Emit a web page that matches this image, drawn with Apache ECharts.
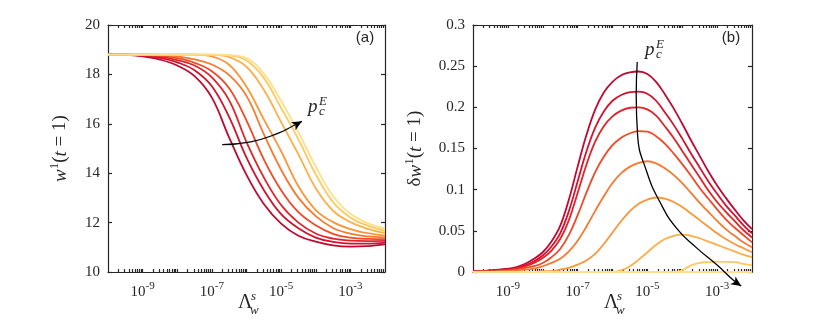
<!DOCTYPE html>
<html>
<head>
<meta charset="utf-8">
<script src="https://cdn.jsdelivr.net/npm/echarts@6/dist/echarts.min.js"></script>
<style>
  html, body { margin: 0; padding: 0; background: #fff; }
  #chart { width: 830px; height: 332px; }
</style>
</head>
<body>
<div id="chart"></div>
<script>
// x values are log10(Lambda_w^s)
const logLambdaA = [-10, -9.5, -9, -8.5, -8, -7.5, -7, -6.5, -6, -5.5, -5, -4.5, -4, -3.5, -3, -2.5, -2];
const logLambdaB = [-10, -9.75, -9.5, -9.25, -9, -8.75, -8.5, -8.25, -8, -7.75, -7.5, -7.25, -7, -6.75, -6.5, -6.25,
  -6, -5.75, -5.5, -5.25, -5, -4.75, -4.5, -4.25, -4, -3.75, -3.5, -3.25, -3, -2.75, -2.5, -2.25, -2];

// panel (a): w^1(t=1), dark red -> light yellow
const w1 = [18.80, 18.79, 18.73, 18.60, 18.36, 17.93, 17.06, 15.44, 13.93, 12.75, 11.96, 11.47, 11.23, 11.08, 11.03, 11.05, 11.12];
const w2 = [18.80, 18.80, 18.76, 18.67, 18.49, 18.17, 17.52, 16.27, 14.63, 13.32, 12.34, 11.77, 11.39, 11.22, 11.15, 11.15, 11.19];
const w3 = [18.80, 18.80, 18.78, 18.72, 18.58, 18.36, 17.88, 16.95, 15.26, 13.83, 12.71, 12.00, 11.56, 11.35, 11.27, 11.25, 11.26];
const w4 = [18.80, 18.80, 18.79, 18.76, 18.66, 18.47, 18.13, 17.44, 16.13, 14.56, 13.31, 12.42, 11.89, 11.54, 11.39, 11.34, 11.33];
const w5 = [18.80, 18.80, 18.80, 18.79, 18.73, 18.61, 18.40, 17.97, 17.13, 15.58, 14.14, 13.00, 12.26, 11.78, 11.55, 11.44, 11.40];
const w6 = [18.80, 18.80, 18.80, 18.80, 18.80, 18.80, 18.73, 18.39, 17.50, 16.18, 14.89, 13.47, 12.51, 12.02, 11.74, 11.57, 11.47];
const w7 = [18.80, 18.80, 18.80, 18.80, 18.80, 18.80, 18.79, 18.70, 18.31, 17.38, 16.07, 14.76, 13.39, 12.48, 12.02, 11.75, 11.58];
const w8 = [18.80, 18.80, 18.80, 18.80, 18.80, 18.80, 18.80, 18.77, 18.56, 17.86, 16.64, 15.37, 13.95, 12.83, 12.21, 11.88, 11.67];
const w9 = [18.80, 18.80, 18.80, 18.80, 18.80, 18.80, 18.80, 18.78, 18.66, 18.03, 16.92, 15.65, 14.27, 13.08, 12.36, 11.98, 11.76];

// panel (b): delta w^1(t=1)
const dw1 = [0.001, 0.001, 0.002, 0.003, 0.004, 0.006, 0.010, 0.016, 0.024, 0.037, 0.056, 0.088, 0.128, 0.166, 0.197, 0.218,
  0.231, 0.239, 0.2425, 0.2435, 0.2405, 0.231, 0.216, 0.199, 0.180, 0.160, 0.141, 0.122, 0.105, 0.090, 0.076, 0.063, 0.052];
const dw2 = [0.001, 0.001, 0.002, 0.002, 0.003, 0.005, 0.008, 0.013, 0.020, 0.031, 0.047, 0.074, 0.110, 0.146, 0.175, 0.195,
  0.208, 0.215, 0.2185, 0.219, 0.2165, 0.208, 0.194, 0.179, 0.162, 0.144, 0.127, 0.110, 0.095, 0.081, 0.069, 0.057, 0.047];
const dw3 = [0.001, 0.001, 0.001, 0.002, 0.003, 0.004, 0.007, 0.011, 0.017, 0.026, 0.040, 0.063, 0.096, 0.130, 0.158, 0.177,
  0.189, 0.196, 0.1995, 0.2, 0.1975, 0.190, 0.177, 0.163, 0.147, 0.131, 0.115, 0.099, 0.085, 0.073, 0.062, 0.051, 0.042];
const dw4 = [0.000, 0.001, 0.001, 0.001, 0.002, 0.003, 0.005, 0.007, 0.011, 0.018, 0.028, 0.045, 0.069, 0.096, 0.121, 0.140,
  0.154, 0.163, 0.1685, 0.171, 0.1705, 0.165, 0.156, 0.144, 0.131, 0.117, 0.102, 0.089, 0.076, 0.064, 0.054, 0.045, 0.036];
const dw5 = [0.000, 0.000, 0.000, 0.001, 0.001, 0.002, 0.003, 0.004, 0.007, 0.011, 0.016, 0.025, 0.038, 0.055, 0.074, 0.092,
  0.108, 0.120, 0.128, 0.1325, 0.1345, 0.132, 0.126, 0.118, 0.108, 0.096, 0.084, 0.073, 0.062, 0.052, 0.044, 0.036, 0.030];
const dw6 = [0, 0, 0, 0, 0, 0, 0, 0, 0.001, 0.001, 0.003, 0.005, 0.009, 0.014, 0.022, 0.034,
  0.048, 0.062, 0.074, 0.083, 0.088, 0.0905, 0.089, 0.085, 0.079, 0.071, 0.063, 0.055, 0.047, 0.040, 0.034, 0.029, 0.024];
const dw7 = [0, 0, 0, 0, 0, 0, 0, 0, 0, 0, 0, 0, 0, 0, 0, 0,
  0, 0.002, 0.007, 0.015, 0.024, 0.033, 0.040, 0.044, 0.0455, 0.044, 0.041, 0.037, 0.033, 0.029, 0.025, 0.021, 0.018];
const dw8 = [0, 0, 0, 0, 0, 0, 0, 0, 0, 0, 0, 0, 0, 0, 0, 0,
  0, 0, 0, 0, 0, 0, 0, 0, 0.002, 0.008, 0.011, 0.012, 0.0125, 0.0124, 0.012, 0.010, 0.008];
const dw9 = [0, 0, 0, 0, 0, 0, 0, 0, 0, 0, 0, 0, 0, 0, 0, 0,
  0, 0, 0, 0, 0, 0, 0, 0, 0, 0, 0, 0, 0, 0, 0, 0, 0];

const curveColors = ['#be0a33', '#d2132e', '#e2232a', '#ef4a27', '#f7792f', '#fb963a', '#fdb049', '#fec95f', '#fee088'];

// annotation arrows (p_c^E), in data coordinates
const arrowAX = [-6.70, -5.88, -5.10, -4.62, -4.40];
const arrowAY = [15.16, 15.27, 15.61, 15.94, 16.10];
const arrowBX = [-5.29, -5.32, -5.28, -5.02, -4.64, -4.16, -3.58, -3.00, -2.54, -2.31];
const arrowBY = [0.255, 0.215, 0.166, 0.122, 0.085, 0.053, 0.029, 0.0085, -0.0097, -0.017];

const xLabelExps = [-9, -7, -5, -3];

const wCurves = [w1, w2, w3, w4, w5, w6, w7, w8, w9];
const dwCurves = [dw1, dw2, dw3, dw4, dw5, dw6, dw7, dw8, dw9];

// log-style ticks: majors at decades, minors at k*10^e
const xTicks = [];
for (let e = -10; e < -2; e++) {
  if (e > -10) xTicks.push(e);
  for (let k = 2; k <= 9; k++) xTicks.push(e + Math.log10(k));
}

const ink = '#262626';
const serif = 'Liberation Serif';
const boxLine = { color: ink, width: 1.2 };

function xAxisPair(grid) {
  return [
    {
      gridIndex: grid, type: 'value', min: -10, max: -2, position: 'bottom',
      axisLine: { show: true, onZero: false, lineStyle: boxLine },
      axisTick: { show: true, inside: true, length: 3, customValues: xTicks, lineStyle: boxLine },
      axisLabel: {
        show: true, customValues: xLabelExps, margin: 9,
        formatter: (v) => `{b|10}{s|${v}}`,
        rich: {
          b: { fontFamily: serif, fontSize: 15, color: ink, verticalAlign: 'bottom' },
          s: { fontFamily: serif, fontSize: 11, color: ink, verticalAlign: 'bottom', padding: [0, 0, 8, 0] },
        },
      },
      splitLine: { show: false },
    },
    {
      gridIndex: grid, type: 'value', min: -10, max: -2, position: 'top',
      axisLine: { show: true, onZero: false, lineStyle: boxLine },
      axisTick: { show: true, inside: true, length: 3, customValues: xTicks, lineStyle: boxLine },
      axisLabel: { show: false },
      splitLine: { show: false },
    },
  ];
}

function yAxisPair(grid, min, max, interval, fmt, nameRich, nameGap) {
  return [
    {
      gridIndex: grid, type: 'value', min, max, interval, position: 'left',
      axisLine: { show: true, onZero: false, lineStyle: boxLine },
      axisTick: { show: true, inside: true, length: 4, lineStyle: boxLine },
      axisLabel: { fontFamily: serif, fontSize: 15, color: ink, margin: 8, formatter: fmt },
      splitLine: { show: false },
      name: nameRich, nameLocation: 'middle', nameGap, nameRotate: 90,
      nameTextStyle: {
        rich: {
          i: { fontFamily: serif, fontStyle: 'italic', fontSize: 19, color: ink, verticalAlign: 'bottom' },
          n: { fontFamily: serif, fontSize: 19, color: ink, verticalAlign: 'bottom' },
          s: { fontFamily: serif, fontSize: 13, color: ink, verticalAlign: 'bottom', padding: [0, 0, 9, 0] },
        },
      },
    },
    {
      gridIndex: grid, type: 'value', min, max, interval, position: 'right',
      axisLine: { show: true, onZero: false, lineStyle: boxLine },
      axisTick: { show: true, inside: true, length: 4, lineStyle: boxLine },
      axisLabel: { show: false },
      splitLine: { show: false },
    },
  ];
}

function curveSeries(xs, curves, xIdx, yIdx) {
  return curves.map((ys, i) => ({
    type: 'line',
    xAxisIndex: xIdx,
    yAxisIndex: yIdx,
    data: xs.map((x, j) => [x, ys[j]]),
    smooth: 0.4,
    showSymbol: false,
    silent: true,
    lineStyle: { width: 1.8, color: curveColors[i] },
    itemStyle: { color: curveColors[i] },
  }));
}

function arrowSeries(xs, ys, xIdx, yIdx, rotate) {
  const last = xs.length - 1;
  return {
    type: 'line',
    xAxisIndex: xIdx,
    yAxisIndex: yIdx,
    clip: false,
    smooth: 0.5,
    silent: true,
    symbol: 'none',
    showAllSymbol: true,
    z: 5,
    lineStyle: { width: 1.3, color: '#000' },
    itemStyle: { color: '#000' },
    data: xs.map((x, j) => (j === last
      ? { value: [x, ys[j]], symbol: 'arrow', symbolSize: [7, 10], symbolRotate: rotate }
      : [x, ys[j]])),
  };
}

// italic p with subscript and superscript, placed by its baseline
function subSup(x, baseline, sub, sup) {
  const it = (t, dx, dy, size) => ({
    type: 'text', x: x + dx, y: baseline + dy, silent: true, z: 10,
    style: { text: t, fill: ink, font: `italic ${size}px "${serif}"`, textAlign: 'left', textVerticalAlign: 'bottom' },
  });
  return [it('p', 0, 4, 19), it(sub, 11, 6, 13), it(sup, 11, -4, 13)];
}

function lambdaTitle(x) {
  const t = (text, dx, dy, font) => ({
    type: 'text', x: x + dx, y: dy, silent: true,
    style: { text, fill: ink, font, textAlign: 'left', textVerticalAlign: 'bottom' },
  });
  return [
    t('Λ', 0, 313, `20px "${serif}"`),
    t('s', 13, 303, `italic 13px "${serif}"`),
    t('w', 12, 317, `italic 13px "${serif}"`),
  ];
}

const chart = echarts.init(document.getElementById('chart'));

const option = {
  animation: false,
  backgroundColor: '#fff',
  grid: [
    { left: 108, top: 25, width: 277, height: 247, containLabel: false, outerBoundsMode: 'none' },
    { left: 473, top: 25, width: 279, height: 247, containLabel: false, outerBoundsMode: 'none' },
  ],
  xAxis: [...xAxisPair(0), ...xAxisPair(1)],
  yAxis: [
    ...yAxisPair(0, 10, 20, 2, (v) => String(v), '{i|w}{s|1}{n|(}{i|t}{n| = 1)}', 38),
    ...yAxisPair(1, 0, 0.3, 0.05, (v) => String(+v.toFixed(2)), '{n|δ}{i|w}{s|1}{n|(}{i|t}{n| = 1)}', 48),
  ],
  series: [
    ...curveSeries(logLambdaA, wCurves, 0, 0),
    ...curveSeries(logLambdaB, dwCurves, 2, 2),
    arrowSeries(arrowAX, arrowAY, 0, 0, -60),
    arrowSeries(arrowBX, arrowBY, 2, 2, -124),
  ],
  graphic: [
    { type: 'text', x: 365, y: 38, silent: true,
      style: { text: '(a)', fill: ink, font: '15px "Liberation Sans"', textAlign: 'center', textVerticalAlign: 'middle' } },
    { type: 'text', x: 731, y: 38, silent: true,
      style: { text: '(b)', fill: ink, font: '15px "Liberation Sans"', textAlign: 'center', textVerticalAlign: 'middle' } },
    ...subSup(308, 112, 'c', 'E'),
    ...subSup(645, 55, 'c', 'E'),
    ...lambdaTitle(238),
    ...lambdaTitle(604),
  ],
};

chart.setOption(option);
</script>
</body>
</html>
